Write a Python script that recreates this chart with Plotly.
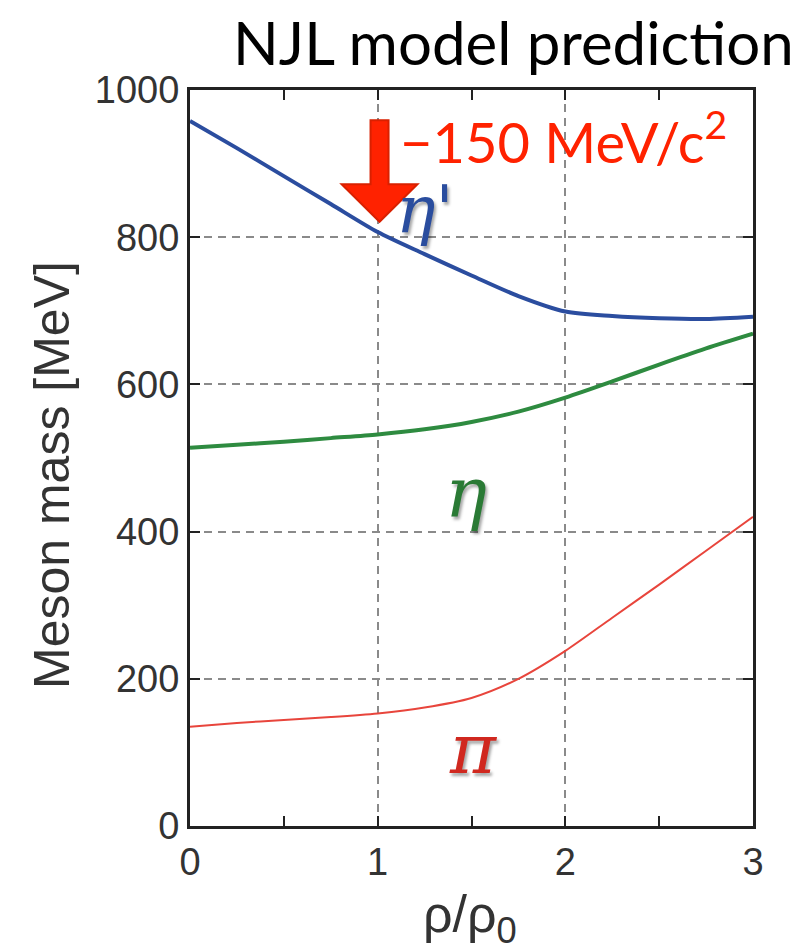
import plotly.graph_objects as go

# ---- data ----
rho = [0.0, 0.25, 0.5, 0.75, 1.0, 1.25, 1.5, 1.75, 2.0, 2.25, 2.5, 2.75, 3.0]
eta_prime = [958, 921, 883, 845, 807, 777, 748, 720, 699, 693, 690, 689, 692]
eta = [514, 518, 522, 527, 532, 539, 549, 563, 582, 604, 627, 649, 669]
pion = [135, 140, 144, 148, 153, 161, 174, 200, 238, 283, 328, 374, 420]

x_ticks = [0, 1, 2, 3]
y_ticks = [0, 200, 400, 600, 800, 1000]

BLUE = "#2B4D9F"
GREEN = "#2E8B40"
RED = "#E8453C"

fig = go.Figure()
fig.add_trace(go.Scatter(x=rho, y=eta_prime, mode="lines", line=dict(color=BLUE, width=4, shape="spline", smoothing=0.8), showlegend=False))
fig.add_trace(go.Scatter(x=rho, y=eta, mode="lines", line=dict(color=GREEN, width=4, shape="spline", smoothing=0.8), showlegend=False))
fig.add_trace(go.Scatter(x=rho, y=pion, mode="lines", line=dict(color=RED, width=2, shape="spline", smoothing=0.8), showlegend=False))

# arrow (annotation graphic) at rho = 1
ax = 1.01
top, base, tip = 959, 872, 821
sw, hw = 0.048, 0.202
path = (f"M {ax-sw} {top} L {ax+sw} {top} L {ax+sw} {base} L {ax+hw} {base} "
        f"L {ax} {tip} L {ax-hw} {base} L {ax-sw} {base} Z")
fig.add_shape(type="path", path=path, xref="x", yref="y",
              fillcolor="#FF2200", line=dict(color="#D92000", width=2))

shadow = "2px 3px 3px rgba(0,0,0,0.35)"
serif = "DejaVu Serif, Liberation Serif, serif"
anns = [
    dict(x=1.25, y=838, text="<i>η'</i>", font=dict(family=serif, size=66, color="#2A4D9E", shadow=shadow)),
    dict(x=1.47, y=452, text="<i>η</i>", font=dict(family=serif, size=70, color="#2A7A35", shadow=shadow)),
    dict(x=1.51, y=105, text="<i>π</i>", font=dict(family=serif, size=70, color="#D0281F", shadow=shadow)),
]
for a in anns:
    fig.add_annotation(xref="x", yref="y", showarrow=False, xanchor="center", yanchor="middle", **a)

fig.add_annotation(x=1.11, y=936, xref="x", yref="y", xanchor="left", yanchor="middle", showarrow=False,
                   text="−150 MeV/c<sup>2</sup>",
                   font=dict(family="Lato, sans-serif", size=56, color="#FF2200"))

fig.add_annotation(x=0.574, y=1.065, xref="paper", yref="paper", xanchor="center", yanchor="middle",
                   showarrow=False, text="NJL model prediction",
                   font=dict(family="Lato, sans-serif", size=60, color="#000000"))

fig.add_annotation(x=-0.245, y=0.477, xref="paper", yref="paper", xanchor="center", yanchor="middle",
                   showarrow=False, textangle=-90, text="Meson mass [MeV]",
                   font=dict(family="Liberation Sans, Arial, sans-serif", size=50, color="#333333"))

fig.add_annotation(x=0.497, y=-0.125, xref="paper", yref="paper", xanchor="center", yanchor="middle",
                   showarrow=False, text="ρ/ρ<sub>0</sub>",
                   font=dict(family="Liberation Sans, Arial, sans-serif", size=52, color="#333333"))

axis_common = dict(
    showline=True, linecolor="#222222", linewidth=3, mirror="ticks",
    ticks="inside", tickcolor="#222222", tickwidth=2, ticklen=10,
    showgrid=True, gridcolor="#8a8a8a", gridwidth=2, griddash="8px,6px",
    zeroline=False,
    tickfont=dict(family="Liberation Sans, Arial, sans-serif", size=38, color="#333333"),
)

fig.update_xaxes(range=[0, 3], tickvals=x_ticks, ticktext=[str(v) for v in x_ticks],
                 minor=dict(dtick=0.5, ticks="inside", ticklen=10, tickwidth=2, tickcolor="#222222", showgrid=False),
                 **axis_common)
fig.update_yaxes(range=[0, 1000], tickvals=y_ticks, ticktext=[str(v) for v in y_ticks],
                 **axis_common)

fig.update_layout(
    width=802, height=951,
    margin=dict(l=190, r=49, t=90, b=125),
    paper_bgcolor="white", plot_bgcolor="white",
)

fig.write_html("out.html")
